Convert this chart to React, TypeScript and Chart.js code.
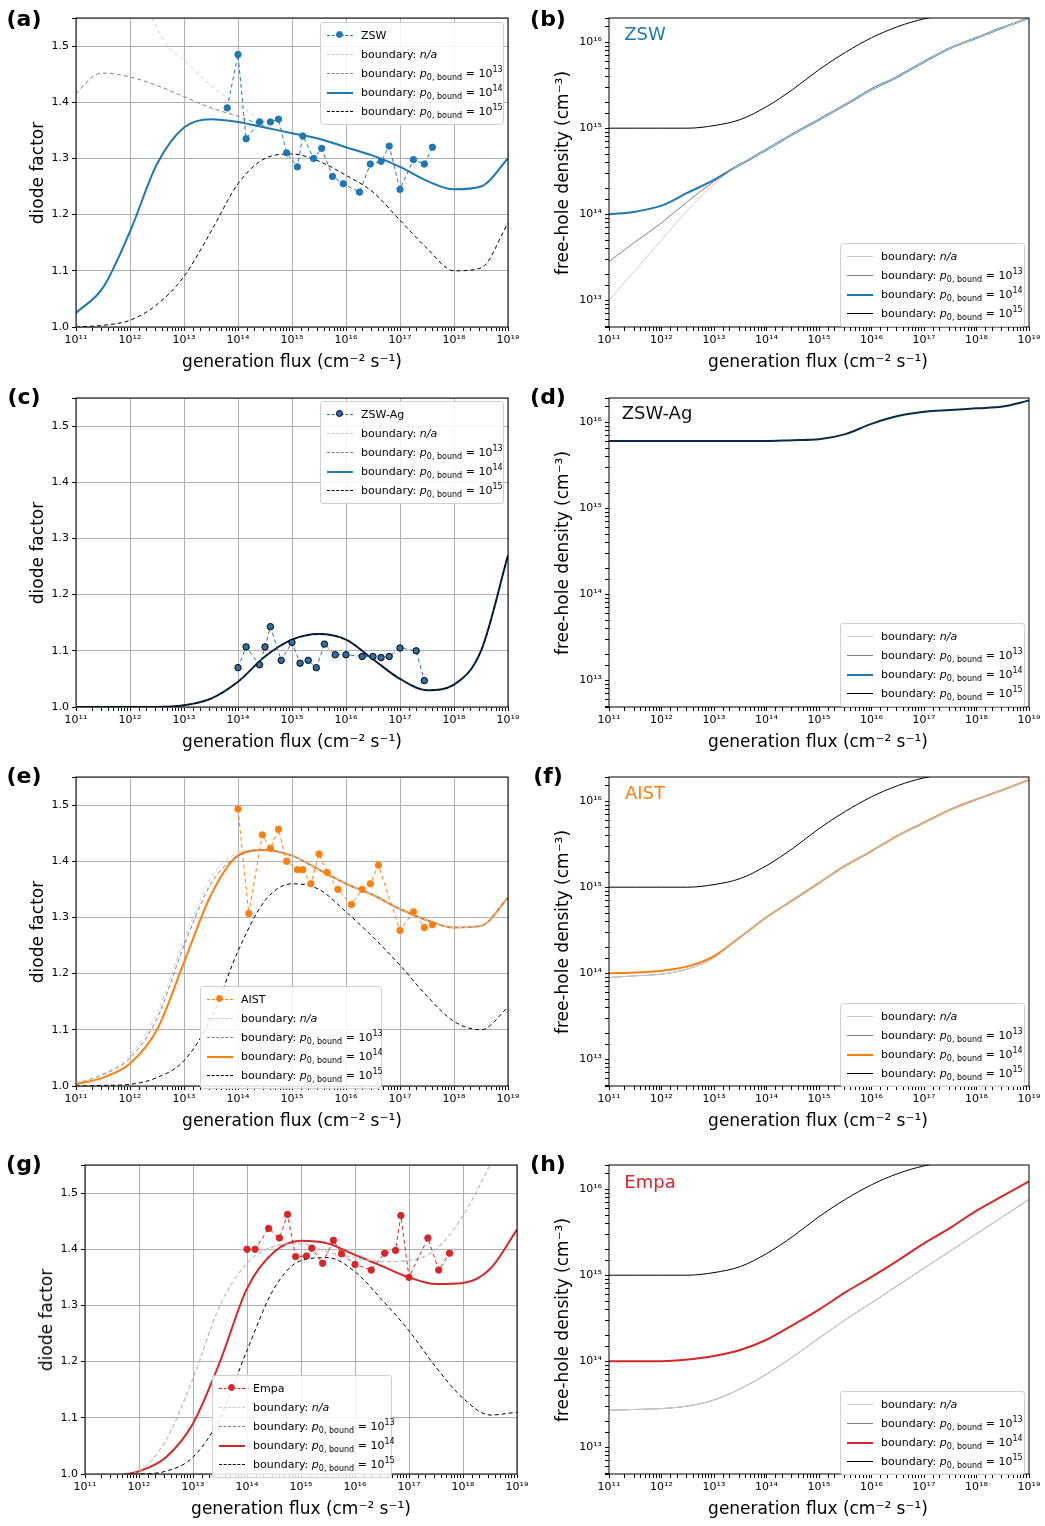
import React, { useEffect, useRef } from "react";
import { Chart, registerables } from "chart.js";

Chart.register(...registerables);

// generation flux exponents (log10 cm^-2 s^-1) for model curves
const fluxExp = [11, 11.5, 12, 12.5, 13, 13.5, 14, 14.5, 15, 15.5, 16, 16.5, 17, 17.5, 18, 18.5, 19];

// (a) ZSW diode factor
const zswNaExp = [12.4, 12.7, 13, 13.5, 14, 14.5];
const zswNa = [1.55, 1.5, 1.475, 1.43, 1.395, 1.365];
const zsw13Exp = [11, 11.3, 11.5, 12, 12.5, 13, 13.5, 14, 14.5];
const zsw13 = [1.415, 1.445, 1.452, 1.445, 1.43, 1.41, 1.39, 1.375, 1.357];
const zsw14 = [1.025, 1.07, 1.17, 1.29, 1.355, 1.37, 1.365, 1.355, 1.345, 1.335, 1.32, 1.305, 1.285, 1.26, 1.245, 1.25, 1.3];
const zsw15 = [1.0, 1.003, 1.012, 1.04, 1.09, 1.17, 1.255, 1.3, 1.308, 1.295, 1.27, 1.24, 1.19, 1.14, 1.1, 1.105, 1.185];
const zswDataExp = [13.8, 14, 14.15, 14.4, 14.6, 14.75, 14.9, 15.1, 15.2, 15.4, 15.55, 15.75, 15.95, 16.25, 16.45, 16.65, 16.8, 17, 17.25, 17.45, 17.6];
const zswData = [1.39, 1.485, 1.335, 1.365, 1.365, 1.37, 1.31, 1.285, 1.34, 1.3, 1.318, 1.268, 1.255, 1.24, 1.29, 1.295, 1.322, 1.245, 1.298, 1.29, 1.32];

// (b) ZSW free-hole density (log10 cm^-3)
const zswPNa = [13.0, 13.35, 13.7, 14.05, 14.35, 14.58, 14.75, 14.93, 15.1, 15.27, 15.45, 15.6, 15.77, 15.93, 16.05, 16.17, 16.28];
const zswP13 = [13.45, 13.68, 13.9, 14.15, 14.38, 14.58, 14.75, 14.93, 15.1, 15.27, 15.45, 15.6, 15.77, 15.93, 16.05, 16.17, 16.28];
const zswP14 = [14.0, 14.03, 14.1, 14.25, 14.4, 14.58, 14.75, 14.93, 15.1, 15.27, 15.45, 15.6, 15.77, 15.93, 16.05, 16.17, 16.28];
const p15Curve = [15.0, 15.0, 15.0, 15.0, 15.03, 15.1, 15.25, 15.45, 15.68, 15.88, 16.05, 16.18, 16.27, 16.32, 16.36, 16.4, 16.44];

// (c) ZSW-Ag diode factor
const agCurve = [1.0, 1.0, 1.0, 1.0, 1.003, 1.015, 1.045, 1.09, 1.12, 1.13, 1.12, 1.085, 1.05, 1.03, 1.04, 1.1, 1.27];
const agDataExp = [14, 14.15, 14.4, 14.5, 14.6, 14.8, 15, 15.15, 15.3, 15.45, 15.6, 15.8, 16, 16.3, 16.5, 16.65, 16.8, 17, 17.3, 17.45];
const agData = [1.07, 1.107, 1.075, 1.107, 1.143, 1.083, 1.115, 1.078, 1.083, 1.07, 1.112, 1.093, 1.093, 1.09, 1.09, 1.088, 1.09, 1.105, 1.1, 1.047];

// (d) ZSW-Ag free-hole density
const agP = [15.78, 15.78, 15.78, 15.78, 15.78, 15.78, 15.78, 15.79, 15.8, 15.86, 15.98, 16.07, 16.12, 16.14, 16.16, 16.18, 16.25];

// (e) AIST diode factor
const aistNa = [1.005, 1.022, 1.055, 1.13, 1.26, 1.37, 1.415, 1.422, 1.41, 1.385, 1.36, 1.34, 1.315, 1.295, 1.282, 1.285, 1.335];
const aist13 = [1.005, 1.02, 1.05, 1.12, 1.25, 1.36, 1.41, 1.42, 1.41, 1.385, 1.36, 1.34, 1.315, 1.295, 1.282, 1.285, 1.335];
const aist14 = [1.003, 1.015, 1.04, 1.1, 1.22, 1.34, 1.41, 1.42, 1.41, 1.385, 1.36, 1.34, 1.315, 1.295, 1.282, 1.285, 1.335];
const aist15 = [1.0, 1.001, 1.003, 1.015, 1.045, 1.12, 1.24, 1.33, 1.36, 1.35, 1.31, 1.265, 1.215, 1.16, 1.115, 1.1, 1.14];
const aistDataExp = [14, 14.2, 14.45, 14.6, 14.75, 14.9, 15.1, 15.2, 15.35, 15.5, 15.65, 15.85, 16.1, 16.3, 16.45, 16.6, 17, 17.25, 17.45, 17.6];
const aistData = [1.493, 1.307, 1.447, 1.423, 1.457, 1.4, 1.385, 1.385, 1.36, 1.413, 1.38, 1.35, 1.323, 1.35, 1.36, 1.393, 1.277, 1.31, 1.282, 1.287];

// (f) AIST free-hole density
const aistP13 = [13.95, 13.97, 13.99, 14.05, 14.18, 14.42, 14.65, 14.85, 15.05, 15.25, 15.42, 15.6, 15.75, 15.9, 16.02, 16.13, 16.25];
const aistP14 = [14.0, 14.01, 14.03, 14.08, 14.2, 14.42, 14.65, 14.85, 15.05, 15.25, 15.42, 15.6, 15.75, 15.9, 16.02, 16.13, 16.25];

// (g) Empa diode factor
const empa13 = [0.98, 0.995, 1.005, 1.06, 1.17, 1.3, 1.375, 1.405, 1.41, 1.395, 1.385, 1.378, 1.38, 1.4, 1.46, 1.55, 1.65];
const empa14 = [0.98, 0.995, 1.005, 1.03, 1.09, 1.2, 1.33, 1.395, 1.415, 1.41, 1.39, 1.37, 1.35, 1.338, 1.34, 1.365, 1.435];
const empa15 = [0.99, 0.998, 1.0, 1.005, 1.03, 1.1, 1.22, 1.33, 1.38, 1.385, 1.36, 1.31, 1.255, 1.19, 1.135, 1.105, 1.11];
const empaDataExp = [14, 14.15, 14.4, 14.6, 14.75, 14.9, 15.1, 15.2, 15.4, 15.6, 15.75, 16, 16.3, 16.55, 16.75, 16.85, 17, 17.35, 17.55, 17.75];
const empaData = [1.4, 1.4, 1.437, 1.42, 1.462, 1.387, 1.388, 1.402, 1.375, 1.416, 1.392, 1.373, 1.363, 1.393, 1.398, 1.46, 1.35, 1.42, 1.363, 1.393];

// (h) Empa free-hole density
const empaP13 = [13.43, 13.44, 13.45, 13.48, 13.55, 13.68, 13.85, 14.05, 14.27, 14.48, 14.68, 14.88, 15.08, 15.28, 15.48, 15.68, 15.88];
const empaP14 = [14.0, 14.0, 14.0, 14.02, 14.06, 14.13, 14.25, 14.42, 14.6, 14.8, 14.98, 15.17, 15.37, 15.55, 15.75, 15.92, 16.09];

const BLUE = "#1f77b4";
const ORANGE = "#ff7f0e";
const RED = "#d62728";
const NAVY = "#0b2a4a";
const LIGHT = "#cccccc";
const GRAY = "#808080";
const FONT = "'DejaVu Sans', sans-serif";

const SUP: Record<string, string> = { "0": "⁰", "1": "¹", "2": "²", "3": "³", "4": "⁴", "5": "⁵", "6": "⁶", "7": "⁷", "8": "⁸", "9": "⁹" };
const pow10 = (e: number) => "10" + String(e).split("").map((c) => SUP[c] || c).join("");
const isDecade = (v: number) => {
  const e = Math.log10(v);
  return Math.abs(e - Math.round(e)) < 1e-6;
};

const pts = (xs: number[], ys: number[], logY = false) =>
  xs.map((x, i) => ({ x: Math.pow(10, x), y: logY ? Math.pow(10, ys[i]) : ys[i] }));

const curve = (xs: number[], ys: number[], color: string, width: number, dash: number[], logY = false) => ({
  data: pts(xs, ys, logY),
  borderColor: color,
  borderWidth: width,
  borderDash: dash,
  pointRadius: 0,
  cubicInterpolationMode: "monotone" as const,
  fill: false,
});

const markers = (xs: number[], ys: number[], color: string, edge: string) => ({
  data: pts(xs, ys),
  borderColor: color,
  borderWidth: 1,
  borderDash: [4, 3],
  pointRadius: 3.2,
  pointBackgroundColor: color,
  pointBorderColor: edge,
  pointBorderWidth: 1,
  fill: false,
});

const boxPlugin = {
  id: "box",
  afterDraw(chart: any) {
    const { ctx, chartArea: a } = chart;
    ctx.save();
    ctx.strokeStyle = "#000";
    ctx.lineWidth = 1;
    ctx.strokeRect(a.left, a.top, a.right - a.left, a.bottom - a.top);
    ctx.restore();
  },
};

interface PanelProps {
  left: number;
  top: number;
  w: number;
  h: number;
  logY: boolean;
  datasets: any[];
}

const Panel: React.FC<PanelProps> = ({ left, top, w, h, logY, datasets }) => {
  const ref = useRef<HTMLCanvasElement>(null);
  useEffect(() => {
    if (!ref.current) return;
    const tickFont = { family: FONT, size: 11 };
    const chart = new Chart(ref.current, {
      type: "line",
      data: { datasets },
      plugins: [boxPlugin],
      options: {
        animation: false,
        responsive: false,
        layout: { padding: { left: 0, top: 10, right: 20, bottom: 0 } },
        plugins: { legend: { display: false }, tooltip: { enabled: false } },
        scales: {
          x: {
            type: "logarithmic",
            min: 1e11,
            max: 1e19,
            afterFit: (s: any) => { s.height = 30; },
            border: { display: false },
            grid: {
              drawOnChartArea: !logY,
              color: (c: any) => (c.tick && isDecade(c.tick.value) ? "#b0b0b0" : "transparent"),
              tickColor: "#000",
              tickLength: 4,
            },
            ticks: {
              autoSkip: false,
              maxRotation: 0,
              color: "#000",
              font: tickFont,
              callback: (v: any) => (isDecade(v) ? pow10(Math.round(Math.log10(v))) : ""),
            },
          },
          y: logY
            ? {
                type: "logarithmic",
                min: Math.pow(10, 12.69),
                max: Math.pow(10, 16.28),
                afterFit: (s: any) => { s.width = 60; },
                border: { display: false },
                grid: { drawOnChartArea: false, tickColor: "#000", tickLength: 4 },
                ticks: {
                  autoSkip: false,
                  color: "#000",
                  font: tickFont,
                  callback: (v: any) => (isDecade(v) ? pow10(Math.round(Math.log10(v))) : ""),
                },
              }
            : {
                type: "linear",
                min: 1.0,
                max: 1.55,
                afterFit: (s: any) => { s.width = 60; },
                border: { display: false },
                grid: { color: "#b0b0b0", tickColor: "#000", tickLength: 4 },
                ticks: {
                  stepSize: 0.1,
                  color: "#000",
                  font: tickFont,
                  callback: (v: any) => (Math.abs(v * 10 - Math.round(v * 10)) < 1e-6 ? Number(v).toFixed(1) : ""),
                },
              },
        },
      },
    } as any);
    return () => chart.destroy();
  }, []);
  return (
    <canvas
      ref={ref}
      width={w + 80}
      height={h + 40}
      style={{ position: "absolute", left: left - 60, top: top - 10, width: w + 80, height: h + 40 }}
    />
  );
};

interface LegItem {
  color: string;
  width: number;
  dash: boolean;
  marker?: string;
  label: React.ReactNode;
}

const pb = (e: number) => (
  <>
    boundary: <i>p</i>
    <sub style={{ fontSize: 8 }}>0, bound</sub> = 10<sup style={{ fontSize: 8 }}>{e}</sup>
  </>
);

const leftItems = (name: string, color: string, edge: string): LegItem[] => [
  { color, width: 1, dash: true, marker: edge, label: name },
  { color: LIGHT, width: 1, dash: true, label: <>boundary: <i>n/a</i></> },
  { color: GRAY, width: 1, dash: true, label: pb(13) },
  { color, width: 2, dash: false, label: pb(14) },
  { color: "#000", width: 1, dash: true, label: pb(15) },
];

const rightItems = (color: string): LegItem[] => [
  { color: LIGHT, width: 1, dash: false, label: <>boundary: <i>n/a</i></> },
  { color: GRAY, width: 1, dash: false, label: pb(13) },
  { color, width: 2, dash: false, label: pb(14) },
  { color: "#000", width: 1, dash: false, label: pb(15) },
];

const Legend: React.FC<{ x: number; y: number; w: number; items: LegItem[] }> = ({ x, y, w, items }) => (
  <div
    style={{
      position: "absolute",
      left: x,
      top: y,
      width: w,
      border: "1px solid #d0d0d0",
      borderRadius: 3,
      background: "rgba(255,255,255,0.85)",
      padding: "3px 0",
      fontFamily: FONT,
      fontSize: 11,
      whiteSpace: "nowrap",
    }}
  >
    {items.map((it, i) => (
      <div key={i} style={{ height: 19, display: "flex", alignItems: "center", whiteSpace: "nowrap" }}>
        <div style={{ position: "relative", width: 26, margin: "0 8px 0 6px", flexShrink: 0 }}>
          <div style={{ borderTop: `${it.width}px ${it.dash ? "dashed" : "solid"} ${it.color}` }} />
          {it.marker && (
            <div
              style={{
                position: "absolute",
                left: 9,
                top: -4,
                width: 7,
                height: 7,
                borderRadius: 4,
                background: it.color,
                border: `1px solid ${it.marker}`,
                boxSizing: "border-box",
              }}
            />
          )}
        </div>
        <span style={{ whiteSpace: "nowrap" }}>{it.label}</span>
      </div>
    ))}
  </div>
);

const Txt: React.FC<{ x: number; y: number; size: number; color?: string; bold?: boolean; rotate?: boolean; children: React.ReactNode }> = ({
  x, y, size, color = "#000", bold, rotate, children,
}) => (
  <div
    style={{
      position: "absolute",
      left: x,
      top: y,
      fontFamily: FONT,
      fontSize: size,
      fontWeight: bold ? "bold" : "normal",
      color,
      whiteSpace: "nowrap",
      transform: rotate ? "translate(-50%,-50%) rotate(-90deg)" : "translate(-50%,-50%)",
    }}
  >
    {children}
  </div>
);

const xTitle = "generation flux (cm⁻² s⁻¹)";

export default function App() {
  useEffect(() => {
    document.body.style.margin = "0";
  }, []);
  const L = { left: 76, w: 432 };
  const R = { left: 609, w: 420 };
  const rows = [18, 398, 777, 1165];
  const H = 309;

  return (
    <div style={{ position: "relative", width: 1045, height: 1526, background: "#fff", overflow: "hidden" }}>
      {/* (a) */}
      <Panel left={L.left} top={rows[0]} w={L.w} h={H} logY={false} datasets={[
        markers(zswDataExp, zswData, BLUE, BLUE),
        curve(zswNaExp, zswNa, LIGHT, 1, [4, 3]),
        curve(zsw13Exp, zsw13, GRAY, 1, [4, 3]),
        curve(fluxExp, zsw14, BLUE, 2, []),
        curve(fluxExp, zsw15, "#000", 1, [4, 3]),
      ]} />
      {/* (b) */}
      <Panel left={R.left} top={rows[0]} w={R.w} h={H} logY={true} datasets={[
        curve(fluxExp, zswPNa, LIGHT, 1, [], true),
        curve(fluxExp, zswP13, GRAY, 1, [], true),
        curve(fluxExp, zswP14, BLUE, 2, [], true),
        curve(fluxExp, p15Curve, "#000", 1, [], true),
      ]} />
      {/* (c) */}
      <Panel left={L.left} top={rows[1]} w={L.w} h={H} logY={false} datasets={[
        markers(agDataExp, agData, "#2f6fa8", "#000"),
        curve(fluxExp, agCurve, "#000", 1, [4, 3]),
        curve(fluxExp, agCurve, NAVY, 2, []),
      ]} />
      {/* (d) */}
      <Panel left={R.left} top={rows[1]} w={R.w} h={H} logY={true} datasets={[
        curve(fluxExp, agP, NAVY, 2, [], true),
      ]} />
      {/* (e) */}
      <Panel left={L.left} top={rows[2]} w={L.w} h={H} logY={false} datasets={[
        markers(aistDataExp, aistData, ORANGE, ORANGE),
        curve(fluxExp, aistNa, LIGHT, 1, [4, 3]),
        curve(fluxExp, aist13, GRAY, 1, [4, 3]),
        curve(fluxExp, aist14, ORANGE, 2, []),
        curve(fluxExp, aist15, "#000", 1, [4, 3]),
      ]} />
      {/* (f) */}
      <Panel left={R.left} top={rows[2]} w={R.w} h={H} logY={true} datasets={[
        curve(fluxExp, aistP13, LIGHT, 1, [], true),
        curve(fluxExp, aistP13, GRAY, 1, [], true),
        curve(fluxExp, aistP14, ORANGE, 2, [], true),
        curve(fluxExp, p15Curve, "#000", 1, [], true),
      ]} />
      {/* (g) */}
      <Panel left={85} top={rows[3]} w={L.w} h={H} logY={false} datasets={[
        markers(empaDataExp, empaData, RED, RED),
        curve(fluxExp, empa13, LIGHT, 1, [4, 3]),
        curve(fluxExp, empa13, GRAY, 1, [4, 3]),
        curve(fluxExp, empa14, RED, 2, []),
        curve(fluxExp, empa15, "#000", 1, [4, 3]),
      ]} />
      {/* (h) */}
      <Panel left={R.left} top={rows[3]} w={R.w} h={H} logY={true} datasets={[
        curve(fluxExp, empaP13, LIGHT, 1, [], true),
        curve(fluxExp, empaP13, GRAY, 1, [], true),
        curve(fluxExp, empaP14, RED, 2, [], true),
        curve(fluxExp, p15Curve, "#000", 1, [], true),
      ]} />

      <Legend x={320} y={22} w={182} items={leftItems("ZSW", BLUE, BLUE)} />
      <Legend x={320} y={401} w={182} items={leftItems("ZSW-Ag", "#2f6fa8", "#000").map((it, i) => (i === 3 ? { ...it, color: BLUE } : it))} />
      <Legend x={200} y={986} w={180} items={leftItems("AIST", ORANGE, ORANGE)} />
      <Legend x={212} y={1375} w={178} items={leftItems("Empa", RED, RED)} />
      <Legend x={840} y={243} w={183} items={rightItems(BLUE)} />
      <Legend x={840} y={623} w={183} items={rightItems(BLUE)} />
      <Legend x={840} y={1003} w={183} items={rightItems(ORANGE)} />
      <Legend x={840} y={1391} w={183} items={rightItems(RED)} />

      <Txt x={645} y={33} size={18} color={BLUE}>ZSW</Txt>
      <Txt x={657} y={412} size={18} color="#111">ZSW-Ag</Txt>
      <Txt x={645} y={792} size={18} color={ORANGE}>AIST</Txt>
      <Txt x={650} y={1181} size={18} color={RED}>Empa</Txt>

      {[["(a)", 24, 18], ["(b)", 548, 18], ["(c)", 24, 396], ["(d)", 548, 396], ["(e)", 24, 775], ["(f)", 548, 775], ["(g)", 24, 1163], ["(h)", 548, 1163]].map(
        ([t, x, y]) => (
          <Txt key={t as string} x={x as number} y={y as number} size={22} bold>{t}</Txt>
        )
      )}

      {rows.map((r, i) => (
        <React.Fragment key={i}>
          <Txt x={i === 3 ? 301 : 292} y={r + H + 34} size={17}>{xTitle}</Txt>
          <Txt x={818} y={r + H + 34} size={17}>{xTitle}</Txt>
          <Txt x={i === 3 ? 46 : 37} y={r + H / 2} size={17} rotate>diode factor</Txt>
          <Txt x={562} y={r + H / 2} size={17} rotate>free-hole density (cm⁻³)</Txt>
        </React.Fragment>
      ))}
    </div>
  );
}
